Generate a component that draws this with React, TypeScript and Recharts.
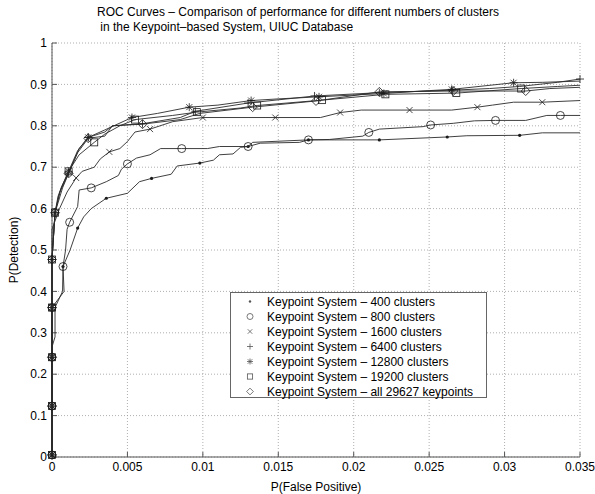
import { ScatterChart, Scatter, XAxis, YAxis, CartesianGrid } from "recharts";

// [P(False Positive), P(Detection), marker shown]
type Pt = [number, number, number];

const fpTicks = [0, 0.005, 0.01, 0.015, 0.02, 0.025, 0.03, 0.035];
const pdTicks = [0, 0.1, 0.2, 0.3, 0.4, 0.5, 0.6, 0.7, 0.8, 0.9, 1];

const roc400: Pt[] = [
  [0, 0.005, 1], [0, 0.123, 1], [0, 0.241, 1], [0, 0.266, 0], [0.0002, 0.29, 0], [0.0002, 0.361, 0],
  [0.0007, 0.4, 0], [0.00073, 0.46, 1], [0.0012, 0.5, 0], [0.0017, 0.553, 1], [0.0021, 0.58, 0],
  [0.0026, 0.6, 0], [0.0036, 0.625, 1], [0.005, 0.637, 0], [0.0058, 0.665, 0], [0.0066, 0.673, 1],
  [0.0079, 0.683, 0], [0.0083, 0.703, 0], [0.0098, 0.71, 1], [0.0107, 0.717, 0], [0.0111, 0.73, 0],
  [0.012, 0.732, 0], [0.0125, 0.748, 0], [0.013, 0.75, 1], [0.0138, 0.758, 0], [0.0164, 0.76, 0],
  [0.017, 0.766, 1], [0.0217, 0.766, 1], [0.0262, 0.773, 1], [0.0275, 0.776, 0], [0.031, 0.777, 1],
  [0.0325, 0.783, 0], [0.035, 0.783, 0],
];

const roc800: Pt[] = [
  [0, 0.005, 1], [0, 0.123, 1], [0, 0.241, 1], [0, 0.361, 1], [0.0008, 0.4, 0], [0.00073, 0.46, 1],
  [0.0009, 0.5, 0], [0.001, 0.55, 0], [0.00117, 0.567, 1], [0.0017, 0.605, 0], [0.0018, 0.645, 0],
  [0.0026, 0.65, 1], [0.0036, 0.665, 0], [0.0044, 0.68, 0], [0.0046, 0.695, 0], [0.005, 0.708, 1],
  [0.0056, 0.722, 0], [0.0065, 0.73, 0], [0.0072, 0.745, 0], [0.0086, 0.745, 1], [0.0103, 0.745, 0],
  [0.0111, 0.75, 0], [0.013, 0.75, 1], [0.0133, 0.76, 0], [0.017, 0.766, 1], [0.0184, 0.767, 0],
  [0.0206, 0.775, 0], [0.021, 0.784, 1], [0.0217, 0.792, 0], [0.0246, 0.798, 0], [0.0251, 0.802, 1],
  [0.0266, 0.806, 0], [0.028, 0.812, 0], [0.0294, 0.813, 1], [0.0314, 0.813, 0], [0.0328, 0.825, 0],
  [0.0337, 0.825, 1], [0.035, 0.825, 0],
];

const roc1600: Pt[] = [
  [0, 0.005, 1], [0, 0.123, 1], [0, 0.241, 1], [0, 0.361, 1], [0, 0.55, 0], [0.0005, 0.6, 0],
  [0.001, 0.64, 0], [0.0016, 0.674, 1], [0.002, 0.69, 0], [0.0028, 0.7, 0], [0.0032, 0.72, 0],
  [0.0038, 0.737, 1], [0.0045, 0.745, 0], [0.005, 0.762, 0], [0.0055, 0.785, 0], [0.0065, 0.792, 1],
  [0.008, 0.81, 0], [0.01, 0.82, 1], [0.0148, 0.82, 1], [0.0178, 0.82, 0], [0.0191, 0.832, 1],
  [0.0205, 0.838, 0], [0.0237, 0.838, 1], [0.0265, 0.838, 0], [0.0282, 0.845, 1], [0.0292, 0.85, 0],
  [0.0306, 0.857, 0], [0.0325, 0.857, 1], [0.035, 0.861, 0],
];

const roc6400: Pt[] = [
  [0, 0.005, 1], [0, 0.123, 1], [0, 0.241, 1], [0, 0.361, 1], [0, 0.477, 1], [0.0002, 0.59, 1],
  [0.0004, 0.63, 0], [0.0011, 0.686, 1], [0.0015, 0.72, 0], [0.0018, 0.745, 0], [0.0024, 0.772, 1],
  [0.0035, 0.785, 0], [0.004, 0.8, 0], [0.006, 0.805, 1], [0.0085, 0.82, 0], [0.0095, 0.835, 1],
  [0.013, 0.855, 1], [0.0174, 0.872, 1], [0.0217, 0.88, 1], [0.0265, 0.886, 1], [0.029, 0.89, 0],
  [0.031, 0.895, 0], [0.0335, 0.905, 0], [0.035, 0.913, 1],
];

const roc12800: Pt[] = [
  [0, 0.005, 1], [0, 0.123, 1], [0, 0.241, 1], [0, 0.361, 1], [0, 0.477, 1], [0.0002, 0.59, 1],
  [0.0005, 0.64, 0], [0.0011, 0.69, 1], [0.0017, 0.74, 0], [0.0024, 0.772, 1], [0.0035, 0.79, 0],
  [0.0053, 0.82, 1], [0.007, 0.83, 0], [0.0091, 0.845, 1], [0.011, 0.85, 0], [0.0132, 0.861, 1],
  [0.015, 0.865, 0], [0.0177, 0.87, 1], [0.022, 0.878, 1], [0.025, 0.885, 0], [0.0265, 0.888, 1],
  [0.0306, 0.904, 1], [0.0325, 0.905, 0], [0.035, 0.908, 0],
];

const roc19200: Pt[] = [
  [0, 0.005, 1], [0, 0.123, 1], [0, 0.241, 1], [0, 0.361, 1], [0, 0.477, 1], [0.0002, 0.59, 1],
  [0.0006, 0.65, 0], [0.0011, 0.69, 1], [0.0018, 0.73, 0], [0.0028, 0.76, 1], [0.0035, 0.78, 0],
  [0.0045, 0.8, 0], [0.0055, 0.815, 1], [0.008, 0.825, 0], [0.0096, 0.833, 1], [0.0125, 0.843, 0],
  [0.0136, 0.849, 1], [0.0179, 0.862, 1], [0.0221, 0.876, 1], [0.0268, 0.879, 1], [0.0311, 0.89, 1],
  [0.0335, 0.895, 0], [0.035, 0.898, 0],
];

const rocAll: Pt[] = [
  [0, 0.005, 1], [0, 0.123, 1], [0, 0.241, 1], [0, 0.361, 1], [0, 0.477, 1], [0.0002, 0.59, 1],
  [0.0007, 0.65, 0], [0.0011, 0.685, 1], [0.0017, 0.735, 0], [0.0024, 0.77, 1], [0.0035, 0.775, 0],
  [0.004, 0.8, 0], [0.006, 0.804, 1], [0.0085, 0.815, 0], [0.0098, 0.83, 0], [0.0133, 0.845, 1],
  [0.0175, 0.86, 1], [0.0217, 0.882, 1], [0.0266, 0.884, 1], [0.0314, 0.884, 1], [0.033, 0.89, 0],
  [0.035, 0.893, 0],
];

const seriesNames = [
  "Keypoint System – 400 clusters",
  "Keypoint System – 800 clusters",
  "Keypoint System – 1600 clusters",
  "Keypoint System – 6400 clusters",
  "Keypoint System – 12800 clusters",
  "Keypoint System – 19200 clusters",
  "Keypoint System – all 29627 keypoints",
];
const seriesMarkers = ["dot", "circle", "x", "plus", "star", "square", "diamond"];
const seriesData = [roc400, roc800, roc1600, roc6400, roc12800, roc19200, rocAll];

const FONT = '"Liberation Sans", Arial, sans-serif';
const INK = "#1a1a1a";

function Marker({ kind, cx, cy, k = 1, color = INK }: { kind: string; cx: number; cy: number; k?: number; color?: string }) {
  const s = { stroke: color, strokeWidth: 0.8, fill: "none" };
  const a = 3 * k;
  const b = 4 * k;
  switch (kind) {
    case "dot":
      return <circle cx={cx} cy={cy} r={1.6 * k} fill={color} />;
    case "circle":
      return <circle cx={cx} cy={cy} r={b} {...s} />;
    case "x":
      return <path d={`M${cx - a},${cy - a}L${cx + a},${cy + a}M${cx - a},${cy + a}L${cx + a},${cy - a}`} {...s} />;
    case "plus":
      return <path d={`M${cx - b},${cy}L${cx + b},${cy}M${cx},${cy - b}L${cx},${cy + b}`} {...s} />;
    case "star":
      return (
        <path
          d={`M${cx - b},${cy}L${cx + b},${cy}M${cx},${cy - b}L${cx},${cy + b}M${cx - a},${cy - a}L${cx + a},${cy + a}M${cx - a},${cy + a}L${cx + a},${cy - a}`}
          {...s}
        />
      );
    case "square":
      return <rect x={cx - 3.5 * k} y={cy - 3.5 * k} width={7 * k} height={7 * k} {...s} />;
    case "diamond":
      return <path d={`M${cx},${cy - 4.5 * k}L${cx + 4.5 * k},${cy}L${cx},${cy + 4.5 * k}L${cx - 4.5 * k},${cy}Z`} {...s} />;
    default:
      return <g />;
  }
}

const fmt = (v: number) => String(v);

export default function App() {
  return (
    <div style={{ position: "absolute", left: 0, top: 0, width: 595, height: 494, background: "#fff", fontFamily: FONT }}>
      <ScatterChart width={595} height={494} margin={{ top: 43, right: 15, bottom: 17, left: 0 }}>
        <CartesianGrid stroke="#9a9a9a" strokeDasharray="1 2" strokeWidth={0.8} />
        <XAxis
          type="number"
          dataKey="fp"
          domain={[0, 0.035]}
          ticks={fpTicks}
          interval={0}
          height={20}
          tickSize={-5}
          tickMargin={10}
          tickFormatter={fmt}
          stroke="#555"
          tick={{ fill: "#000", fontSize: 12, fontFamily: FONT }}
        />
        <YAxis
          type="number"
          dataKey="pd"
          domain={[0, 1]}
          ticks={pdTicks}
          interval={0}
          width={52}
          tickSize={-5}
          tickMargin={10}
          tickFormatter={fmt}
          stroke="#555"
          tick={{ fill: "#000", fontSize: 12, fontFamily: FONT }}
        />
        {seriesData.map((pts, i) => (
          <Scatter
            key={seriesNames[i]}
            name={seriesNames[i]}
            data={pts.map(([fp, pd, m]) => ({ fp, pd, m }))}
            line={{ stroke: "#2a2a2a", strokeWidth: 0.9 }}
            lineType="joint"
            isAnimationActive={false}
            shape={(p: any) =>
              p.payload && p.payload.m ? <Marker kind={seriesMarkers[i]} cx={p.cx} cy={p.cy} /> : <g />
            }
          />
        ))}
      </ScatterChart>

      <div style={{ position: "absolute", left: 97, top: 5, fontSize: 12, lineHeight: "15px", color: "#000", whiteSpace: "pre" }}>
        {"ROC Curves – Comparison of performance for different numbers of clusters\n in the Keypoint–based System, UIUC Database"}
      </div>
      <div
        style={{
          position: "absolute",
          left: 14,
          top: 250,
          transform: "translate(-50%, -50%) rotate(-90deg)",
          fontSize: 12,
          whiteSpace: "nowrap",
          color: "#000",
        }}
      >
        P(Detection)
      </div>
      <div
        style={{
          position: "absolute",
          left: 316,
          top: 487,
          transform: "translate(-50%, -50%)",
          fontSize: 12,
          whiteSpace: "nowrap",
          color: "#000",
        }}
      >
        P(False Positive)
      </div>

      <div
        style={{
          position: "absolute",
          left: 230,
          top: 292,
          width: 255,
          height: 103,
          border: "1px solid #666",
          background: "#fff",
          paddingTop: 1,
        }}
      >
        {seriesNames.map((name, i) => (
          <div key={name} style={{ display: "flex", alignItems: "center", height: 15, fontSize: 12, color: "#000" }}>
            <svg width={36} height={15} style={{ flex: "none" }}>
              <Marker kind={seriesMarkers[i]} cx={19} cy={7.5} k={0.75} color="#555" />
            </svg>
            <span style={{ whiteSpace: "nowrap" }}>{name}</span>
          </div>
        ))}
      </div>
    </div>
  );
}
